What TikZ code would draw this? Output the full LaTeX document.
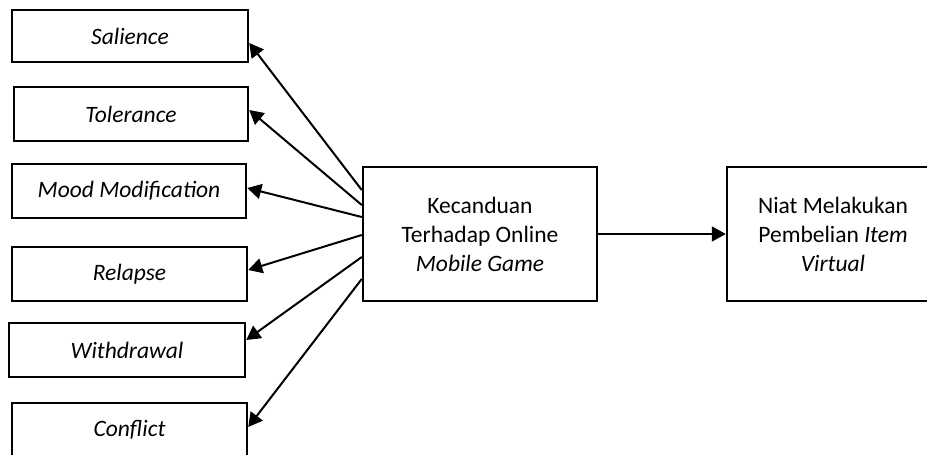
\documentclass[tikz,border=0pt]{standalone}
\usepackage{fontspec}
\setmainfont{Carlito}
\usetikzlibrary{arrows.meta,calc}
\begin{document}
\begin{tikzpicture}[x=1pt,y=-1pt,
  box/.style={draw=black, line width=2.5pt, rectangle, inner sep=0pt, align=center,
    font=\fontsize{23.5}{29}\selectfont},
  conn/.style={line width=2pt, -{Triangle[length=14pt,width=15pt]}}]
\useasboundingbox (0,0) rectangle (927,455);
\fill[white] (0,0) rectangle (927,455);
\clip (0,0) rectangle (927,455);
% left boxes
\node[box, minimum width=236pt, minimum height=52pt] (sal) at (130,36) {\itshape Salience};
\node[box, minimum width=234pt, minimum height=54pt] (tol) at (131,114) {\itshape Tolerance};
\node[box, minimum width=234pt, minimum height=54pt] (mood) at (129,191) {\itshape Mood Modification};
\node[box, minimum width=235pt, minimum height=54pt] (rel) at (129.5,274) {\itshape Relapse};
\node[box, minimum width=236pt, minimum height=54pt] (wd) at (127,350) {\itshape Withdrawal};
\node[box, minimum width=235pt, minimum height=54pt] (con) at (129.5,430) {\itshape Conflict};
% centre and right boxes
\node[box, minimum width=234pt, minimum height=134pt] (c) at (480,234)
  {Kecanduan\\Terhadap Online\\\textit{Mobile Game}};
\node[box, minimum width=212pt, minimum height=134pt] (r) at (833,234)
  {Niat Melakukan\\Pembelian \textit{Item}\\\textit{Virtual}};
% start and end points
\coordinate (s1) at ($(c.west)+(0,-44)$);
\coordinate (s2) at ($(c.west)+(0,-29)$);
\coordinate (s3) at ($(c.west)+(0,-17)$);
\coordinate (s4) at ($(c.west)+(0,1)$);
\coordinate (s5) at ($(c.west)+(0,23)$);
\coordinate (s6) at ($(c.west)+(0,45)$);
\coordinate (e1) at ($(sal.east)+(0,7)$);
\coordinate (e2) at ($(tol.east)+(0,-4)$);
\coordinate (e3) at ($(mood.east)+(0,-3)$);
\coordinate (e4) at ($(rel.east)+(0,-4)$);
\coordinate (e5) at ($(wd.east)+(0,-10)$);
\coordinate (e6) at ($(con.east)+(0,-3)$);
\draw[conn] (s1) -- (e1);
\draw[conn] (s2) -- (e2);
\draw[conn] (s3) -- (e3);
\draw[conn] (s4) -- (e4);
\draw[conn] (s5) -- (e5);
\draw[conn] (s6) -- (e6);
\draw[conn] (c.east) -- (r.west);
\end{tikzpicture}
\end{document}
